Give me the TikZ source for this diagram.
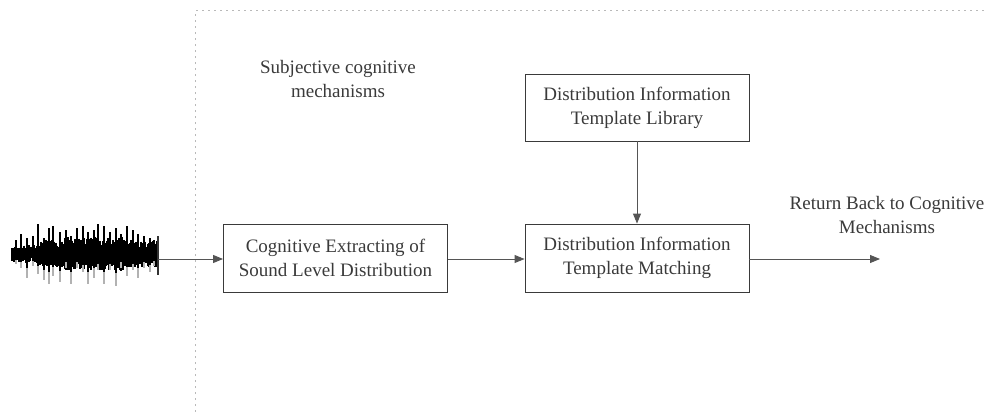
\documentclass[tikz,border=0pt]{standalone}
\usepackage{fontspec}
\newfontfamily\figfont{LiberationSerif}[Extension=.ttf, UprightFont=*-Regular]
\usetikzlibrary{arrows.meta}
\definecolor{ink}{HTML}{3A3A3A}
\definecolor{linecol}{HTML}{555555}
\tikzset{
  box/.style={draw=ink, line width=0.9pt, minimum width=224pt, minimum height=68pt, align=center, inner sep=0pt, text=ink},
  conn/.style={draw=linecol, line width=0.9pt, -{Triangle[length=10pt,width=8pt]}},
  lbl/.style={align=center, text=ink, inner sep=0pt},
  frame/.style={draw=gray!55, line width=1pt, dash pattern=on 2pt off 4pt},
}
\begin{document}
\begin{tikzpicture}[x=1pt, y=-1pt, font=\figfont\fontsize{19}{24}\selectfont]
\path[use as bounding box] (0,0) rectangle (986,412);
% frame
\draw[frame] (195,412) -- (195,11) -- (986,11);
% waveform
\pgfmathsetseed{4242}
\foreach \i in {0,...,145} {
  \pgfmathsetmacro\xx{12+\i*1.0}
  \pgfmathsetmacro\env{(\xx<38) ? 9 : ((\xx<60) ? 14 : ((\xx<132) ? 17 : 13))}
  \pgfmathsetmacro\up{\env*(0.45+0.55*rnd)}
  \pgfmathsetmacro\dn{\env*(0.45+0.55*rnd)}
  \draw[line width=1.3pt, black] (\xx,254-\up) -- (\xx,254+\dn);
}
\foreach \sx/\su/\sd in {16/14/10, 21/20/14, 27/16/24, 33/18/12, 38/30/20, 44/16/26, 49/26/30, 53/28/22, 60/22/28, 66/24/14, 71/18/30, 77/26/14, 83/28/18, 88/22/30, 94/24/24, 98/30/16, 104/28/30, 110/22/16, 116/26/32, 121/20/14, 127/28/22, 133/24/16, 138/20/24, 144/18/14, 150/16/18, 154/14/12} {
  \draw[line width=1.2pt, black] (\sx,254-\su) -- (\sx,254+0.6*\sd);
  \draw[line width=1.2pt, gray!60] (\sx,254+0.6*\sd) -- (\sx,254+\sd);
}
\coordinate (wend) at (158,259);
\draw[line width=1.3pt, black!80] (158,236) -- (158,275);
% nodes
\node[box] (extract) at (335.5,258) {Cognitive Extracting of\\Sound Level Distribution};
\node[box] (match) at (637,258) {Distribution Information\\Template Matching};
\node[box, minimum height=67pt] (library) at (637,107.5) {Distribution Information\\Template Library};
\node[lbl] (subj) at (338,79) {Subjective cognitive\\mechanisms};
\node[lbl] (ret) at (887,215) {Return Back to Cognitive\\Mechanisms};
\coordinate (out) at (880,259);
% connectors
\draw[conn] (wend) -- (extract.west |- wend);
\draw[conn] (extract.east |- wend) -- (match.west |- wend);
\draw[conn] (library.south) -- (match.north);
\draw[conn] (match.east |- out) -- (out);
\end{tikzpicture}
\end{document}
